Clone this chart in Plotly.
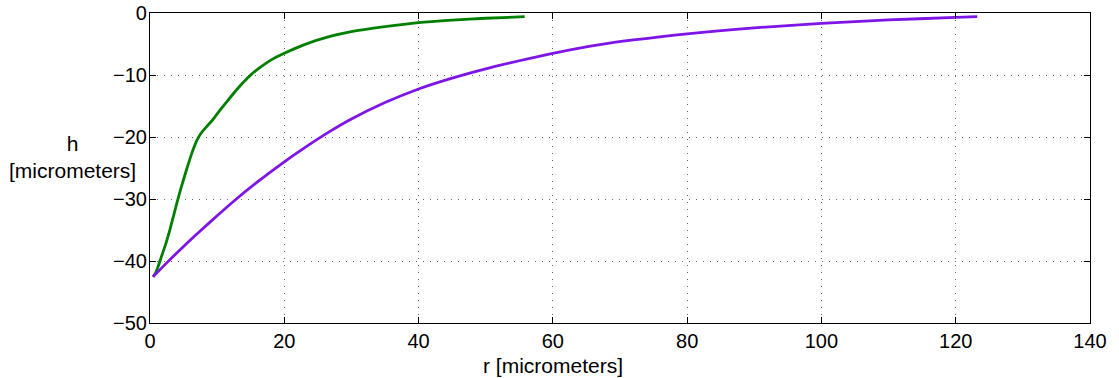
import plotly.graph_objects as go

# Green curve (r, h) in micrometers
green_r = [0.45, 0.8, 1.2, 1.7, 2.3, 3.0, 3.7, 4.5, 5.4, 6.3, 7.0, 7.6, 8.3, 9.2, 10.2, 11.3,
           12.5, 13.8, 15.1, 16.5, 18.0, 20.0, 23.0, 26.8, 30.0, 35.0, 40.0, 45.0, 50.0, 55.8]
green_h = [-42.55, -42.0, -40.9, -39.3, -37.4, -34.8, -31.9, -28.7, -25.4, -22.4, -20.5, -19.4, -18.5, -17.4, -16.0, -14.5,
           -12.9, -11.3, -9.9, -8.7, -7.6, -6.5, -5.1, -3.78, -3.0, -2.2, -1.55, -1.15, -0.85, -0.6]

# Purple curve (r, h) in micrometers
purple_r = [0.45, 2.68, 5.0, 7.8, 10.0, 12.86, 16.0, 20.0, 23.0, 26.8, 30.0, 35.0, 40.0, 45.0, 50.0,
            55.0, 60.0, 67.0, 72.0, 80.0, 90.0, 100.0, 110.0, 120.0, 123.2]
purple_h = [-42.55, -40.1, -37.65, -34.85, -32.7, -30.0, -27.25, -24.0, -21.75, -19.1, -17.1, -14.45, -12.25, -10.5, -9.0,
            -7.7, -6.5, -5.1, -4.35, -3.35, -2.4, -1.68, -1.12, -0.72, -0.6]

x_ticks = [0, 20, 40, 60, 80, 100, 120, 140]
y_ticks = [-50, -40, -30, -20, -10, 0]

FONT = "Liberation Sans, Arial, Helvetica, sans-serif"

fig = go.Figure()
fig.add_trace(go.Scatter(x=green_r, y=green_h, mode="lines",
                         line=dict(color="#007f00", width=2.8, shape="spline", smoothing=0.8)))
fig.add_trace(go.Scatter(x=purple_r, y=purple_h, mode="lines",
                         line=dict(color="#7f14e6", width=2.8, shape="spline", smoothing=0.8)))

axis_common = dict(
    showline=True, linecolor="black", linewidth=1.2, mirror="ticks",
    ticks="inside", ticklen=6, tickcolor="black", tickwidth=1,
    showgrid=True, gridcolor="#666666", griddash="1px,6px", gridwidth=1,
    zeroline=False, automargin=False,
    tickfont=dict(family=FONT, size=20, color="black"),
)

fig.update_layout(
    width=1119, height=378,
    margin=dict(l=150, r=29, t=13, b=55),
    paper_bgcolor="white", plot_bgcolor="white",
    showlegend=False,
    xaxis=dict(range=[0, 140], tickvals=x_ticks, **axis_common),
    yaxis=dict(range=[-50, 0], tickvals=y_ticks, ticklabelstandoff=-2, **axis_common),
    annotations=[
        dict(text="h<br>[micrometers]", xref="paper", yref="paper",
             x=-(150 - 72) / 940, y=(323 - 157) / 310, xanchor="center", yanchor="middle",
             showarrow=False, font=dict(family=FONT, size=21, color="black")),
        dict(text="r [micrometers]", xref="paper", yref="paper",
             x=(553 - 150) / 940, y=-(365 - 323) / 310, xanchor="center", yanchor="middle",
             showarrow=False, font=dict(family=FONT, size=21, color="black")),
    ],
)

fig.write_html("out.html")
